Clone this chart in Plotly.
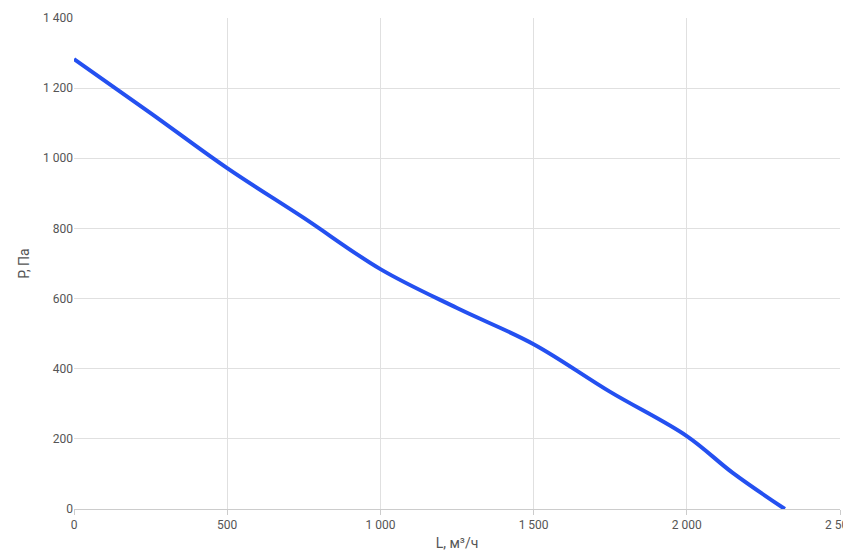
import plotly.graph_objects as go

flow = [0, 250, 500, 750, 1000, 1250, 1500, 1750, 2000, 2150, 2320]
pressure = [1283, 1129, 972, 830, 684, 573, 470, 334, 208, 103, 0]

fig = go.Figure(go.Scatter(x=flow, y=pressure, mode="lines",
                           line=dict(color="#2450f0", width=4, shape="spline", smoothing=1.0)))
fig.update_layout(
    width=851, height=553, plot_bgcolor="white", paper_bgcolor="white",
    margin=dict(l=66, r=19, t=10, b=52, autoexpand=False), separators=", ", showlegend=False,
    font=dict(family="Roboto, Arial", size=12, color="#555"),
)
fig.update_xaxes(range=[0, 2500], dtick=500, tickformat=",d", showgrid=True, gridcolor="#e0e0e0",
                 zeroline=False, showline=True, linecolor="#ccc", ticks="outside", ticklen=5, tickcolor="#ccc",
                 automargin=False, title=dict(text="L, м³/ч", standoff=6))
fig.update_yaxes(range=[0, 1400], dtick=200, tickformat=",d", showgrid=True, gridcolor="#e0e0e0",
                 zeroline=False, automargin=False, title=dict(text="P, Па", standoff=10))
fig.write_html("out.html")
